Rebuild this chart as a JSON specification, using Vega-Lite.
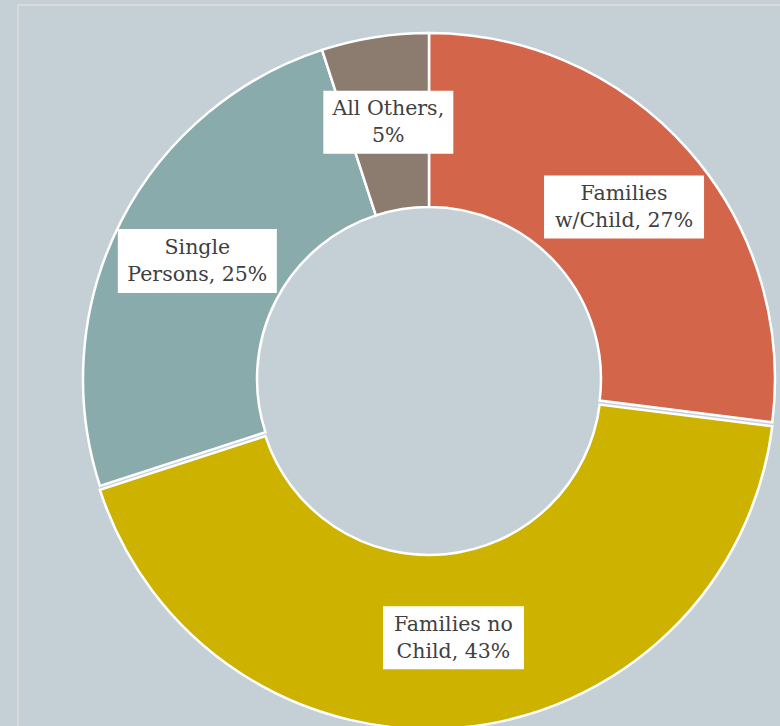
{
  "$schema": "https://vega.github.io/schema/vega-lite/v6.json",
  "width": 822,
  "height": 748,
  "autosize": {"type": "none"},
  "padding": {"left": 18, "top": 5, "right": 0, "bottom": 0},
  "background": "#c5d0d6",
  "config": {"view": {"stroke": null, "fill": "#c5d0d6"}},
  "data": {
    "values": [
      {"category": "Families w/Child", "share": 27, "label": "Families\nw/Child, 27%"},
      {"category": "Families no Child", "share": 43, "label": "Families no\nChild, 43%"},
      {"category": "Single Persons", "share": 25, "label": "Single\nPersons, 25%"},
      {"category": "All Others", "share": 5, "label": "All Others,\n5%"}
    ]
  },
  "transform": [
    {"window": [{"op": "row_number", "as": "seq"}]},
    {"stack": "share", "groupby": [], "sort": [{"field": "seq", "order": "ascending"}], "as": ["start", "end"]},
    {"calculate": "(datum.start + datum.end) / 2", "as": "mid"},
    {"calculate": "sin(2 * PI * datum.mid / 100)", "as": "ux"},
    {"calculate": "cos(2 * PI * datum.mid / 100)", "as": "uy"}
  ],
  "layer": [
    {
      "data": {"values": [{}]},
      "mark": {"type": "rect", "fillOpacity": 0, "stroke": "#dadada", "strokeWidth": 2},
      "encoding": {}
    },
    {
      "transform": [{"filter": "datum.category !== 'Families no Child'"}],
      "mark": {"type": "arc", "outerRadius": 346, "innerRadius": 172, "stroke": "white", "strokeWidth": 2.5},
      "encoding": {
        "theta": {"field": "start", "type": "quantitative", "scale": {"domain": [0, 100]}},
        "theta2": {"field": "end"},
        "color": {
          "field": "category",
          "type": "nominal",
          "scale": {
            "domain": ["Families w/Child", "Families no Child", "Single Persons", "All Others"],
            "range": ["#d2654a", "#cdb200", "#8aabab", "#8c7b6f"]
          },
          "legend": null
        }
      }
    },
    {
      "transform": [{"filter": "datum.category === 'Families no Child'"}],
      "mark": {"type": "arc", "outerRadius": 346, "innerRadius": 172, "stroke": "white", "strokeWidth": 2.5, "yOffset": 4},
      "encoding": {
        "theta": {"field": "start", "type": "quantitative", "scale": {"domain": [0, 100]}},
        "theta2": {"field": "end"},
        "color": {"field": "category", "type": "nominal", "legend": null}
      }
    },
    {
      "mark": {"type": "point", "filled": true, "opacity": 1, "fill": "white", "strokeWidth": 0},
      "encoding": {
        "x": {"field": "ux", "type": "quantitative", "scale": {"domain": [-1.58077, 1.58077], "nice": false, "zero": false}, "axis": null},
        "y": {"field": "uy", "type": "quantitative", "scale": {"domain": [-1.43846, 1.43846], "nice": false, "zero": false}, "axis": null},
        "size": {"value": 25600},
        "shape": {
          "condition": [
            {"test": "datum.category === 'All Others'", "value": "M-0.8125,-0.39375H0.8125V0.39375H-0.8125Z"},
            {"test": "datum.category === 'Families no Child'", "value": "M-0.88125,-0.39375H0.88125V0.39375H-0.88125Z"},
            {"test": "datum.category === 'Single Persons'", "value": "M-0.99375,-0.4H0.99375V0.4H-0.99375Z"}
          ],
          "value": "M-1,-0.39375H1V0.39375H-1Z"
        }
      }
    },
    {
      "mark": {"type": "text", "lineBreak": "\n", "font": "DejaVu Serif", "fontSize": 20.5, "lineHeight": 27, "align": "center", "baseline": "middle", "dy": -13},
      "encoding": {
        "x": {"field": "ux", "type": "quantitative"},
        "y": {"field": "uy", "type": "quantitative"},
        "text": {"field": "label"},
        "color": {"value": "#404040"}
      }
    }
  ]
}
